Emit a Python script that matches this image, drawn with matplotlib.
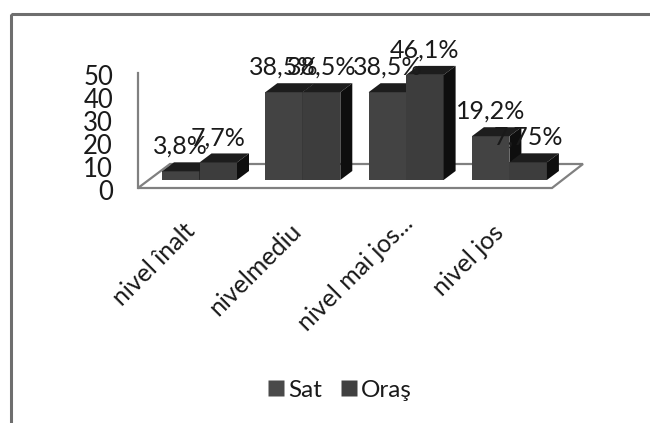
import matplotlib
matplotlib.use("Agg")
import matplotlib.pyplot as plt
from matplotlib.patches import Polygon, Rectangle
from matplotlib.transforms import ScaledTranslation
from matplotlib.lines import Line2D

categories = ["nivel înalt", "nivelmediu", "nivel mai jos...", "nivel jos"]
series_names = ["Sat", "Oraş"]
sat_values = [3.8, 38.5, 38.5, 19.2]
oras_values = [7.7, 38.5, 46.1, 7.75]
sat_labels = ["3,8%", "38,5%", "38,5%", "19,2%"]
oras_labels = ["7,7%", "38,5%", "46,1%", "7,75%"]
value_ticks = [0, 10, 20, 30, 40, 50]

W, H = 650, 423
plt.rcParams["font.family"] = ["Lato", "DejaVu Sans"]
TEXT = "#1a1a1a"
FRONT_SAT = "#434343"
FRONT_ORAS = "#3d3d3d"
TOP = "#1d1d1d"
SIDE = "#0e0e0e"
GRID = "#808080"

fig = plt.figure(figsize=(W / 100, H / 100), dpi=100, facecolor="white")

# Bars live on a full-figure axes: one x unit per category, y in percent.
GROUP_PX = 103.3
UNIT_PX = 2.28
X0_PX = 199.5
Y0_PX = 180.0
ax = fig.add_axes([0, 0, 1, 1])
ax.set_xlim(-X0_PX / GROUP_PX, (W - X0_PX) / GROUP_PX)
ax.set_ylim(-(H - Y0_PX) / UNIT_PX, Y0_PX / UNIT_PX)
ax.axis("off")

bar_w = 37.5 / GROUP_PX
dx = 12 / GROUP_PX
dy = 9 / UNIT_PX


def px_x(p):
    return (p - X0_PX) / GROUP_PX


def px_y(p):
    return (Y0_PX - p) / UNIT_PX


# Chart frame: only the top and left edges fall inside the canvas
frame = Rectangle((10.5 / W, 1 - 14.5 / H), 2, -2, transform=fig.transFigure,
                  fill=False, ec="#6e6e6e", lw=2.2, zorder=1)
ax.add_patch(frame)

# Floor of the 3D plot
floor = [(138, 188), (552, 188), (583, 164), (170, 164)]
ax.add_patch(Polygon([(px_x(a), px_y(b)) for a, b in floor], closed=True,
                     fill=False, ec=GRID, lw=1.6, zorder=2))


def draw_bar(x, value, color, z):
    ax.bar(x, value, bar_w, align="edge", color=color, lw=0, zorder=z)
    ax.add_patch(Polygon([(x, value), (x + bar_w, value),
                          (x + bar_w + dx, value + dy), (x + dx, value + dy)],
                         closed=True, fc=TOP, ec="none", zorder=z))
    ax.add_patch(Polygon([(x + bar_w, 0), (x + bar_w + dx, dy),
                          (x + bar_w + dx, value + dy), (x + bar_w, value)],
                         closed=True, fc=SIDE, ec="none", zorder=z))


for i, (s, o) in enumerate(zip(sat_values, oras_values)):
    draw_bar(i - bar_w, s, FRONT_SAT, 3 + i)
    draw_bar(i, o, FRONT_ORAS, 3.5 + i)

# Value labels sit above each bar's top face
for i, (s, o, sl, ol) in enumerate(zip(sat_values, oras_values, sat_labels, oras_labels)):
    ax.annotate(sl, (i - bar_w * 0.5, s), xytext=(0, 12.5), textcoords="offset points",
                ha="center", va="baseline", fontsize=18, color=TEXT, zorder=20)
    ax.annotate(ol, (i + bar_w * 0.5, o), xytext=(0, 12.5), textcoords="offset points",
                ha="center", va="baseline", fontsize=18, color=TEXT, zorder=21)

# Value axis runs from the floor's front corner
ax_val = fig.add_axes([138 / W, 1 - 188 / H, 1 / W, 115 / H])
ax_val.patch.set_alpha(0)
ax_val.set_ylim(0, 50)
ax_val.set_xticks([])
ax_val.set_yticks(value_ticks)
ax_val.tick_params(axis="y", length=0, pad=18, labelsize=18.5, labelcolor=TEXT)
for name in ("top", "right", "bottom"):
    ax_val.spines[name].set_visible(False)
ax_val.spines["left"].set_color(GRID)
ax_val.spines["left"].set_linewidth(1.6)
shift = ScaledTranslation(0, -2 / 100, fig.dpi_scale_trans)
for lab in ax_val.get_yticklabels():
    lab.set_transform(lab.get_transform() + shift)

# Category labels rotated under the floor
label_anchor_px = [(183, 219), (289, 219), (401, 211), (492, 221)]
for (a, b), cat in zip(label_anchor_px, categories):
    ax.text(px_x(a), px_y(b), cat, rotation=45, rotation_mode="anchor",
            ha="right", va="top", fontsize=18, color=TEXT, zorder=20)

# Legend
handles = [Line2D([], [], ls="none", marker="s", ms=11, mfc=c, mec="none")
           for c in ("#4a4a4a", "#404040")]
fig.legend(handles, series_names, loc="center", bbox_to_anchor=(338 / W, 1 - 390 / H),
           ncol=2, frameon=False, fontsize=17.5, labelcolor=TEXT,
           handletextpad=0.0, columnspacing=0.6, handlelength=1.0)

fig.savefig("out.png", dpi=100)
